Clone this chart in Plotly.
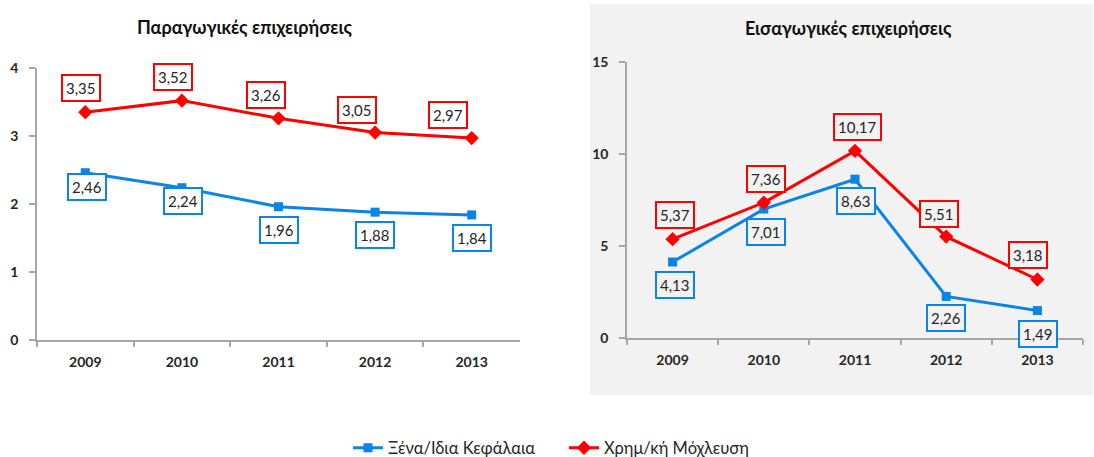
import plotly.graph_objects as go

# ---- data ----
categories = ["2009", "2010", "2011", "2012", "2013"]
prod_equity = [2.46, 2.24, 1.96, 1.88, 1.84]
prod_leverage = [3.35, 3.52, 3.26, 3.05, 2.97]
imp_equity = [4.13, 7.01, 8.63, 2.26, 1.49]
imp_leverage = [5.37, 7.36, 10.17, 5.51, 3.18]
series_names = ["Ξένα/Ιδια Κεφάλαια", "Χρημ/κή Μόχλευση"]
titles = ["Παραγωγικές επιχειρήσεις", "Εισαγωγικές επιχειρήσεις"]

# ---- styles ----
W, H = 1094, 457
BLUE = "#0A84E6"
RED = "#FF0000"
FONT = "Lato"
TXT = "#262626"
AX = "#a6a6a6"
PANEL = "#f2f2f2"

prod_lev_off = [(-4, -24), (-9, -24), (-13, -23), (-18, -23), (-24, -23)]
prod_eq_off = [(2, 14), (1, 13), (0, 23), (0, 23), (0, 23)]
imp_lev_off = [(2, -24), (2, -24), (2, -24), (-7, -23), (-9, -24)]
imp_eq_off = [(2, 23), (2, 23), (1, 22), (0, 22), (1, 23)]


def px_x(a, b):
    return [a / W, b / W]


def px_y(bottom, top):
    return [1 - bottom / H, 1 - top / H]


fig = go.Figure()

fig.add_trace(go.Scatter(x=categories, y=prod_equity, name=series_names[0], mode="lines+markers",
                         line=dict(color=BLUE, width=3), marker=dict(symbol="square", size=9, color=BLUE),
                         xaxis="x", yaxis="y", legendgroup="a", showlegend=True))
fig.add_trace(go.Scatter(x=categories, y=prod_leverage, name=series_names[1], mode="lines+markers",
                         line=dict(color=RED, width=3), marker=dict(symbol="diamond", size=11, color=RED),
                         xaxis="x", yaxis="y", legendgroup="b", showlegend=True))
fig.add_trace(go.Scatter(x=categories, y=imp_equity, name=series_names[0], mode="lines+markers",
                         line=dict(color=BLUE, width=3), marker=dict(symbol="square", size=9, color=BLUE),
                         xaxis="x2", yaxis="y2", legendgroup="a", showlegend=False))
fig.add_trace(go.Scatter(x=categories, y=imp_leverage, name=series_names[1], mode="lines+markers",
                         line=dict(color=RED, width=3), marker=dict(symbol="diamond", size=11, color=RED),
                         xaxis="x2", yaxis="y2", legendgroup="b", showlegend=False))

annotations = []


def add_labels(values, offsets, color, xref, yref, bg):
    for i, (v, (dx, dy)) in enumerate(zip(values, offsets)):
        annotations.append(dict(
            x=i, y=v, xref=xref, yref=yref, text=f"{v:.2f}".replace(".", ","),
            showarrow=False, xshift=dx, yshift=-dy, xanchor="center", yanchor="middle",
            font=dict(family=FONT, size=15, color=TXT),
            bordercolor=color, borderwidth=2, borderpad=3, bgcolor=bg,
        ))


add_labels(prod_leverage, prod_lev_off, RED, "x", "y", "white")
add_labels(prod_equity, prod_eq_off, BLUE, "x", "y", "white")
add_labels(imp_leverage, imp_lev_off, RED, "x2", "y2", PANEL)
add_labels(imp_equity, imp_eq_off, BLUE, "x2", "y2", PANEL)

annotations.append(dict(x=245 / W, y=1 - 27 / H, xref="paper", yref="paper", text=titles[0],
                        showarrow=False, xanchor="center", yanchor="middle",
                        font=dict(family=FONT, size=18, color="#111111", weight="bold")))
annotations.append(dict(x=848 / W, y=1 - 28 / H, xref="paper", yref="paper", text=titles[1],
                        showarrow=False, xanchor="center", yanchor="middle",
                        font=dict(family=FONT, size=18, color="#111111", weight="bold")))

tickfont = dict(family=FONT, size=14, color=TXT, weight="bold")
xcommon = dict(type="category", range=[-0.5, 4.5], showline=True, linecolor=AX, linewidth=1.5,
               ticks="outside", tickcolor=AX, ticklen=5, tickwidth=1.5, tickson="boundaries",
               showgrid=False, zeroline=False, tickfont=tickfont, fixedrange=True,
               ticklabelstandoff=8)
ycommon = dict(showline=True, linecolor=AX, linewidth=1.5, ticks="outside", tickcolor=AX,
               ticklen=6, tickwidth=1.5, showgrid=False, zeroline=False, tickfont=tickfont,
               ticklabelstandoff=8, fixedrange=True)

fig.update_layout(
    width=W, height=H, autosize=False,
    margin=dict(l=0, r=0, t=0, b=0, pad=0, autoexpand=False),
    paper_bgcolor="white", plot_bgcolor="rgba(0,0,0,0)",
    font=dict(family=FONT, color=TXT),
    xaxis=dict(domain=px_x(37, 520), anchor="y", **xcommon),
    yaxis=dict(domain=px_y(340, 68), anchor="x", range=[0, 4], dtick=1, **ycommon),
    xaxis2=dict(domain=px_x(627, 1083), anchor="y2", **xcommon),
    yaxis2=dict(domain=px_y(338, 62), anchor="x2", range=[0, 15], dtick=5, **ycommon),
    shapes=[
        dict(type="rect", xref="paper", yref="paper", x0=590 / W, x1=1093 / W,
             y0=1 - 395 / H, y1=1 - 4 / H, fillcolor=PANEL, line=dict(width=0), layer="below"),
    ],
    annotations=annotations,
    legend=dict(orientation="h", x=348 / W, xanchor="left", y=1 - 448 / H, yanchor="middle",
                entrywidth=171, entrywidthmode="pixels",
                font=dict(family=FONT, size=16.5, color=TXT), bgcolor="rgba(0,0,0,0)"),
    showlegend=True,
)

fig.write_html("out.html", config={"displayModeBar": False, "responsive": False},
               post_script="document.body.style.margin='0';document.body.style.overflow='hidden';")
